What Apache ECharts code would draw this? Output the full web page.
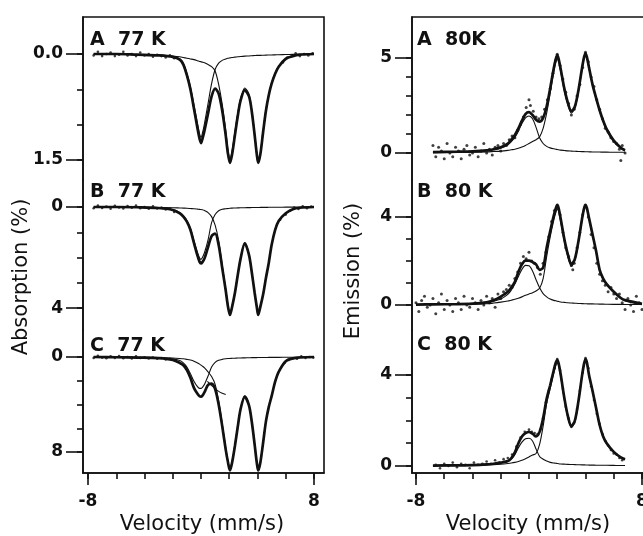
<!DOCTYPE html>
<html><head><meta charset="utf-8">
<script src="https://cdn.jsdelivr.net/npm/echarts@6/dist/echarts.min.js"></script>
<style>html,body{margin:0;padding:0;background:#fff}#c{width:643px;height:536px}</style>
</head><body><div id="c"></div>
<script>
// ---------- shared velocity grids (mm/s) ----------
const LV = [-7.6,-6,-4.5,-3,-2,-1.5,-1.25,-1,-0.75,-0.5,-0.25,-0.1,0,0.1,0.25,0.5,0.75,1,1.25,1.5,1.75,1.9,2.05,2.2,2.4,2.6,2.8,3.1,3.4,3.6,3.8,3.95,4.05,4.2,4.4,4.6,4.8,5,5.25,5.5,6,6.5,7,8];
const RV = [-8,-6.8,-5,-4,-3,-2.5,-2,-1.5,-1.25,-1,-0.75,-0.5,-0.25,0,0.25,0.5,0.75,1,1.25,1.5,1.75,1.9,2.0,2.1,2.25,2.5,2.75,3,3.25,3.5,3.75,3.9,4.0,4.1,4.25,4.5,4.75,5,5.25,5.5,6,6.5,6.8,8];

// ---------- Absorption A 77 K ----------
const LA_fit = [0,0,0.01,0.02,0.04,0.08,0.15,0.3,0.5,0.77,1.05,1.2,1.26,1.2,1.08,0.84,0.6,0.49,0.56,0.8,1.15,1.4,1.54,1.42,1.15,0.88,0.66,0.51,0.6,0.82,1.15,1.42,1.54,1.42,1.1,0.8,0.58,0.42,0.28,0.18,0.07,0.03,0.01,0];
const LA_c1 = [0,0,0.01,0.02,0.035,0.07,0.13,0.27,0.46,0.72,0.98,1.13,1.18,1.12,0.98,0.7,0.42,0.22,0.13,0.09,0.07,0.06,0.055,0.05,0.045,0.04,0.035,0.03,0.028,0.025,0.022,0.02,0.02,0.02,0.018,0.016,0.015,0.014,0.012,0.01,0.008,0.006,0.004,0];
const LA_c2 = [0,0.005,0.01,0.015,0.03,0.04,0.05,0.06,0.07,0.08,0.095,0.105,0.11,0.115,0.125,0.15,0.18,0.24,0.43,0.71,1.08,1.34,1.48,1.37,1.1,0.84,0.63,0.48,0.57,0.8,1.13,1.4,1.52,1.4,1.08,0.78,0.57,0.41,0.27,0.17,0.06,0.025,0.008,0];
const LA_pts = [[-7.6,0.02],[-7.3,-0.03],[-7.0,0.03],[-6.7,0.0],[-6.4,-0.02],[-6.1,0.03],[-5.8,0.01],[-5.5,-0.03],[-5.2,0.02],[-4.9,0.0],[-4.6,0.03],[-4.3,-0.02],[-4.0,0.02],[-3.7,0.0],[-3.4,0.04],[-3.1,0.01],[-2.8,0.03],[-2.5,0.05],[-2.2,0.02],[-1.9,0.06],[5.8,0.12],[6.1,0.05],[6.4,0.04],[6.7,-0.01],[7.0,0.03],[7.3,0.0],[7.6,0.02],[7.9,-0.01]];

// ---------- Absorption B 77 K ----------
const LB_fit = [0,0,0.01,0.04,0.12,0.25,0.38,0.58,0.9,1.42,1.92,2.17,2.23,2.18,2.03,1.58,1.15,1.05,1.5,2.4,3.3,3.9,4.27,3.95,3.4,2.7,2.05,1.44,1.9,2.6,3.4,3.95,4.27,3.95,3.45,2.8,2.2,1.5,0.9,0.55,0.25,0.09,0.03,0];
const LB_c1 = [0,0,0.01,0.03,0.1,0.22,0.34,0.53,0.84,1.33,1.8,2.02,2.07,2.0,1.8,1.3,0.62,0.3,0.15,0.09,0.07,0.06,0.05,0.045,0.04,0.035,0.03,0.028,0.025,0.022,0.02,0.02,0.018,0.017,0.016,0.015,0.013,0.012,0.01,0.009,0.007,0.005,0.003,0];
const LB_c2 = [0,0.005,0.01,0.02,0.03,0.04,0.045,0.05,0.06,0.07,0.085,0.095,0.1,0.11,0.14,0.22,0.38,0.72,1.33,2.3,3.23,3.84,4.22,3.9,3.36,2.66,2.02,1.41,1.87,2.57,3.38,3.93,4.25,3.93,3.43,2.78,2.18,1.49,0.89,0.54,0.24,0.085,0.027,0];
const LB_pts = [[-7.6,0.05],[-7.3,-0.06],[-7.0,0.04],[-6.7,-0.02],[-6.4,0.07],[-6.1,-0.05],[-5.8,0.02],[-5.5,0.06],[-5.2,-0.04],[-4.9,0.03],[-4.6,-0.06],[-4.3,0.05],[-4.0,0.0],[-3.7,0.07],[-3.4,-0.03],[-3.1,0.06],[-2.8,0.02],[-2.5,0.1],[-2.2,0.06],[-1.9,0.2],[5.6,0.5],[6.0,0.3],[6.3,0.15],[6.6,0.02],[6.9,0.08],[7.2,-0.03],[7.5,0.05],[7.8,-0.02]];

// ---------- Absorption C 77 K ----------
const LC_fit = [0,0.02,0.05,0.1,0.25,0.5,0.7,1.1,1.75,2.6,3.1,3.3,3.34,3.25,2.95,2.35,2.25,2.7,4.0,5.8,7.8,8.8,9.55,8.9,7.5,5.9,4.4,3.34,4.1,5.5,7.4,8.9,9.55,8.9,7.2,5.4,4.2,3.3,2.08,1.25,0.35,0.12,0.04,0];
const LC_c1 = [0,0.02,0.04,0.08,0.16,0.3,0.5,0.85,1.4,2.05,2.5,2.64,2.64,2.55,2.3,1.6,0.85,0.45,0.28,0.2,0.15,0.13,0.12,0.11,0.1,0.09,0.08,0.07,0.06,0.055,0.05,0.05,0.045,0.045,0.04,0.04,0.035,0.035,0.03,0.03,0.02,0.015,0.01,0];
const LC_c2 = [0,0.01,0.02,0.04,0.08,0.12,0.15,0.2,0.26,0.35,0.5,0.6,0.68,0.77,0.92,1.25,1.65,2.3,3.7,5.6,7.65,8.7,9.45,8.8,7.4,5.8,4.32,3.27,4.04,5.45,7.35,8.85,9.5,8.85,7.16,5.36,4.17,3.27,2.05,1.22,0.33,0.1,0.03,0];
const LC_extraV = [0.45,0.8,1.2,1.5,1.75];
const LC_extraD = [2.05,2.45,2.85,3.05,3.15];
const LC_pts = [[-7.6,0.08],[-7.3,-0.1],[-7.0,0.05],[-6.7,0.1],[-6.4,-0.05],[-6.1,0.08],[-5.8,-0.08],[-5.5,0.1],[-5.2,0.0],[-4.9,0.12],[-4.6,-0.06],[-4.3,0.08],[-4.0,0.02],[-3.7,0.12],[-3.4,0.04],[-3.1,0.15],[-2.8,0.08],[-2.5,0.2],[-2.2,0.15],[5.9,0.5],[6.2,0.25],[6.5,0.1],[6.8,0.15],[7.1,-0.05],[7.4,0.08],[7.7,0.0],[7.95,0.05]];

// ---------- Emission A 80K ----------
const RA_fit = [null,0.05,0.07,0.09,0.14,0.2,0.3,0.5,0.7,0.95,1.3,1.7,2.05,2.15,2.0,1.75,1.65,1.85,2.45,3.4,4.45,4.95,5.15,4.95,4.4,3.4,2.65,2.2,2.45,3.3,4.45,5.05,5.25,5.05,4.5,3.6,2.9,2.25,1.7,1.25,0.65,0.28,0.15,null];
const RA_c1 = [null,0.05,0.06,0.08,0.12,0.17,0.25,0.42,0.6,0.82,1.15,1.55,1.85,1.95,1.8,1.35,0.8,0.5,0.35,0.27,0.22,0.2,0.18,0.17,0.15,0.13,0.11,0.1,0.09,0.08,0.07,0.07,0.065,0.065,0.06,0.055,0.05,0.05,0.045,0.045,0.04,0.04,0.04,null];
const RA_c2 = [null,0.02,0.03,0.04,0.06,0.08,0.1,0.14,0.17,0.2,0.25,0.32,0.4,0.5,0.6,0.7,0.85,1.3,2.1,3.15,4.25,4.78,4.97,4.78,4.25,3.27,2.54,2.1,2.36,3.22,4.38,4.98,5.18,4.98,4.44,3.55,2.85,2.2,1.65,1.2,0.61,0.24,0.11,null];
const RA_pts = [[-6.8,0.4],[-6.6,-0.2],[-6.4,0.3],[-6.2,0.1],[-6.0,-0.3],[-5.8,0.5],[-5.6,0.0],[-5.4,-0.2],[-5.2,0.3],[-5.0,0.1],[-4.8,-0.3],[-4.6,0.2],[-4.4,0.4],[-4.2,-0.1],[-4.0,0.0],[-3.8,0.3],[-3.6,-0.2],[-3.4,0.1],[-3.2,0.5],[-3.0,0.0],[-2.8,0.2],[-2.6,-0.1],[-2.4,0.3],[-2.2,0.4],[-2.0,0.1],[-1.8,0.5],[-1.6,0.4],[-1.4,0.7],[-1.2,0.9],[-1.0,0.8],[-0.8,1.2],[-0.6,1.5],[-0.4,1.9],[-0.2,2.4],[0,2.8],[0.1,2.5],[0.3,2.2],[0.5,1.9],[0.7,1.8],[0.9,1.9],[1.1,2.3],[1.3,2.8],[1.5,3.4],[1.7,4.2],[1.9,4.9],[2.0,5.2],[2.2,4.6],[2.4,3.9],[2.6,3.2],[2.8,2.6],[3.0,2.0],[3.2,2.3],[3.4,3.0],[3.6,3.6],[3.8,4.5],[4.0,5.3],[4.2,4.8],[4.4,4.0],[4.6,3.5],[4.8,2.8],[5.0,2.3],[5.2,1.8],[5.4,1.3],[5.6,1.1],[5.8,0.8],[6.0,0.6],[6.2,0.5],[6.4,0.2],[6.6,0.4],[6.8,0.0],[6.5,-0.4]];

// ---------- Emission B 80 K ----------
const RB_fit = [0.02,0.03,0.04,0.06,0.12,0.22,0.38,0.6,0.8,1.05,1.5,1.85,2.02,2.02,1.95,1.85,1.6,1.7,2.6,3.35,4.05,4.4,4.55,4.4,3.9,3.0,2.3,1.85,2.1,2.9,3.9,4.4,4.55,4.4,3.95,3.2,2.45,1.6,1.2,0.95,0.6,0.32,0.22,0.05];
const RB_c1 = [0.02,0.03,0.05,0.07,0.12,0.17,0.27,0.48,0.68,0.95,1.3,1.62,1.8,1.78,1.55,1.15,0.78,0.52,0.37,0.27,0.21,0.19,0.17,0.16,0.14,0.12,0.1,0.09,0.08,0.07,0.065,0.06,0.06,0.055,0.05,0.05,0.045,0.04,0.04,0.035,0.03,0.03,0.025,0.02];
const RB_c2 = [0.01,0.02,0.03,0.04,0.06,0.09,0.13,0.18,0.22,0.26,0.31,0.37,0.44,0.5,0.56,0.64,0.76,1.2,2.2,3.1,3.85,4.2,4.38,4.24,3.76,2.88,2.2,1.76,2.02,2.83,3.83,4.34,4.49,4.35,3.9,3.15,2.4,1.56,1.16,0.92,0.57,0.29,0.2,0.03];
const RB_pts = [[-8.0,0.1],[-7.8,-0.3],[-7.6,0.2],[-7.4,0.4],[-7.2,-0.1],[-7.0,0.0],[-6.8,0.3],[-6.6,-0.4],[-6.4,0.1],[-6.2,0.5],[-6.0,-0.2],[-5.8,0.2],[-5.6,0.0],[-5.4,-0.3],[-5.2,0.3],[-5.0,0.1],[-4.8,-0.2],[-4.6,0.4],[-4.4,0.0],[-4.2,-0.1],[-4.0,0.3],[-3.8,0.1],[-3.6,-0.2],[-3.4,0.2],[-3.2,0.0],[-3.0,0.4],[-2.8,0.1],[-2.6,0.3],[-2.4,-0.1],[-2.2,0.5],[-2.0,0.3],[-1.8,0.6],[-1.6,0.7],[-1.4,0.9],[-1.2,0.8],[-1.0,1.2],[-0.8,1.5],[-0.6,1.9],[-0.4,2.2],[-0.2,2.1],[0.0,2.4],[0.2,2.0],[0.4,1.9],[0.6,1.7],[0.8,1.4],[1.0,1.9],[1.2,2.4],[1.4,3.1],[1.6,3.8],[1.8,4.3],[2.0,4.5],[2.2,4.1],[2.4,3.3],[2.6,2.6],[2.8,2.2],[3.0,1.8],[3.1,1.6],[3.2,1.9],[3.4,2.6],[3.6,3.3],[3.8,4.1],[4.0,4.5],[4.2,4.0],[4.4,3.2],[4.6,2.6],[4.8,1.9],[5.0,1.4],[5.2,1.1],[5.4,0.9],[5.6,0.6],[5.8,0.8],[6.0,0.5],[6.2,0.3],[6.4,0.5],[6.6,0.1],[6.8,-0.2],[7.0,0.3],[7.2,0.0],[7.4,-0.3],[7.6,0.4],[7.8,0.1],[8.0,-0.2],[8.2,0.3],[8.4,0.0]];

// ---------- Emission C 80 K ----------
const RC_fit = [null,0.02,0.03,0.04,0.07,0.1,0.15,0.22,0.35,0.6,1.0,1.3,1.44,1.5,1.42,1.3,1.5,2.1,2.95,3.55,4.2,4.55,4.65,4.5,4.0,3.0,2.2,1.75,2.0,2.85,3.95,4.5,4.7,4.55,4.0,3.3,2.55,1.8,1.3,1.0,0.62,0.38,0.3,null];
const RC_c1 = [null,0.02,0.03,0.04,0.06,0.08,0.12,0.2,0.3,0.5,0.8,1.05,1.2,1.22,1.1,0.75,0.42,0.3,0.22,0.16,0.13,0.12,0.11,0.1,0.09,0.08,0.07,0.065,0.06,0.055,0.05,0.05,0.045,0.045,0.04,0.04,0.035,0.035,0.03,0.03,0.025,0.02,0.02,null];
const RC_c2 = [null,0.01,0.02,0.03,0.05,0.06,0.08,0.11,0.13,0.16,0.2,0.25,0.32,0.4,0.48,0.55,0.95,1.75,2.75,3.4,4.08,4.43,4.54,4.4,3.9,2.92,2.13,1.68,1.94,2.8,3.9,4.45,4.65,4.5,3.96,3.26,2.51,1.76,1.27,0.97,0.6,0.36,0.28,null];
const RC_pts = [[-6.6,0.05],[-6.3,-0.1],[-6.0,0.1],[-5.7,0.0],[-5.4,0.15],[-5.1,-0.05],[-4.8,0.1],[-4.5,0.05],[-4.2,-0.1],[-3.9,0.15],[-3.6,0.05],[-3.3,0.1],[-3.0,0.2],[-2.7,0.1],[-2.4,0.25],[-2.1,0.15],[-1.8,0.3],[-1.5,0.35],[-1.2,0.5],[-0.9,0.85],[-0.6,1.25],[-0.3,1.5],[0.0,1.6],[0.2,1.5],[0.4,1.45],[0.6,1.4],[0.8,1.6],[1.0,2.1],[1.2,2.8],[1.4,3.3],[1.6,3.8],[1.8,4.3],[2.0,4.7],[2.2,4.2],[2.4,3.4],[2.6,2.6],[2.8,2.1],[3.0,1.75],[3.2,1.9],[3.4,2.5],[3.6,3.3],[3.8,4.1],[4.0,4.75],[4.2,4.3],[4.4,3.5],[4.6,2.9],[4.8,2.3],[5.0,1.85],[5.2,1.4],[5.4,1.1],[5.6,0.9],[5.8,0.7],[6.0,0.55],[6.2,0.5],[6.4,0.35],[6.6,0.25]];

// ---------- ticks & labels ----------
const X_TICKS = [-8,-6,-4,-2,0,2,4,6,8];
const X_LABELS = [-8,8];
const TITLES = ['A  77 K','B  77 K','C  77 K','A  80K','B  80 K','C  80 K'];

// ---------- layout ----------
const FONT = 'DejaVu Sans';
const INK = '#111';
const COLS = [
  {left:83, width:241, xr:[-8.354,8.708], inverse:true},
  {left:412, width:240, xr:[-8.283,8.708], inverse:false}
];
const ROWS = [{top:17,height:163},{top:180,height:150},{top:330,height:143}];
const fmt1 = v => v.toFixed(1);
const fmt0 = v => String(v);
const PANELS = [
  {col:0,row:0,yr:[-0.523,1.782],ticks:[0,0.5,1,1.5],labels:[0,1.5],fmt:fmt1,v:LV,fit:LA_fit,c1:LA_c1,c2:LA_c2,pts:LA_pts,ps:2.6},
  {col:0,row:1,yr:[-1.067,4.862],ticks:[0,1,2,3,4],labels:[0,4],fmt:fmt0,v:LV,fit:LB_fit,c1:LB_c1,c2:LB_c2,pts:LB_pts,ps:2.6},
  {col:0,row:2,yr:[-2.274,9.768],ticks:[0,2,4,6,8],labels:[0,8],fmt:fmt0,v:LV,fit:LC_fit,c1:LC_c1,c2:LC_c2,pts:LC_pts,ps:2.6,extra:[LC_extraV,LC_extraD]},
  {col:1,row:0,yr:[-1.421,7.158],ticks:[0,1,2,3,4,5],labels:[0,5],fmt:fmt0,v:RV,fit:RA_fit,c1:RA_c1,c2:RA_c2,pts:RA_pts,ps:3},
  {col:1,row:1,yr:[-1.136,5.682],ticks:[0,1,2,3,4],labels:[0,4],fmt:fmt0,v:RV,fit:RB_fit,c1:RB_c1,c2:RB_c2,pts:RB_pts,ps:3},
  {col:1,row:2,yr:[-0.308,5.978],ticks:[0,1,2,3,4],labels:[0,4],fmt:fmt0,v:RV,fit:RC_fit,c1:RC_c1,c2:RC_c2,pts:RC_pts,ps:2.6}
];

const pairs = (vs, ys) => vs.map((v,i)=>[v, ys[i]]).filter(p => p[1] !== null);
const labelStyle = {fontFamily:FONT, fontSize:17, fontWeight:'bold', color:INK};
const axLine = {show:true, onZero:false, lineStyle:{color:INK, width:1.6}};
const noLine = {show:false, onZero:false};

const grid=[], xAxis=[], yAxis=[], series=[];
PANELS.forEach((p,i)=>{
  const c = COLS[p.col], r = ROWS[p.row];
  grid.push({left:c.left, width:c.width, top:r.top, height:r.height, outerBoundsMode:'none', containLabel:false});
  const bottom = p.row === 2;
  const xi = xAxis.length;
  xAxis.push({gridIndex:i, type:'value', position:'bottom', min:c.xr[0], max:c.xr[1], show:bottom,
    axisLine:axLine, axisTick:{show:true, length:6, customValues:X_TICKS, lineStyle:{color:INK,width:1.6}},
    axisLabel:{show:false}, splitLine:{show:false}});
  if (bottom) {
    xAxis.push({gridIndex:i, type:'value', position:'bottom', offset:0, min:c.xr[0], max:c.xr[1],
      axisLine:noLine, axisTick:{show:true, length:12, customValues:X_LABELS, lineStyle:{color:INK,width:1.6}},
      axisLabel:Object.assign({show:true, customValues:X_LABELS, margin:20, formatter:fmt0}, labelStyle),
      splitLine:{show:false}});
  }
  const yi = yAxis.length;
  yAxis.push({gridIndex:i, type:'value', position:'left', min:p.yr[0], max:p.yr[1], inverse:c.inverse,
    axisLine:axLine, axisTick:{show:true, length:6, customValues:p.ticks, lineStyle:{color:INK,width:1.6}},
    axisLabel:{show:false}, splitLine:{show:false}});
  yAxis.push({gridIndex:i, type:'value', position:'left', offset:0, min:p.yr[0], max:p.yr[1], inverse:c.inverse,
    axisLine:noLine, axisTick:{show:true, length:17, customValues:p.labels, lineStyle:{color:INK,width:1.6}},
    axisLabel:Object.assign({show:true, customValues:p.labels, margin:20, formatter:p.fmt}, labelStyle),
    splitLine:{show:false}});
  const base = {xAxisIndex:xi, yAxisIndex:yi, silent:true, animation:false};
  series.push(Object.assign({type:'scatter', data:p.pts, symbolSize:p.ps, itemStyle:{color:INK}, z:2}, base));
  series.push(Object.assign({type:'line', data:pairs(p.v,p.c1), symbol:'none', smooth:0.3, lineStyle:{color:INK,width:1.1}, z:3}, base));
  series.push(Object.assign({type:'line', data:pairs(p.v,p.c2), symbol:'none', smooth:0.3, lineStyle:{color:INK,width:1.1}, z:3}, base));
  series.push(Object.assign({type:'line', data:pairs(p.v,p.fit), symbol:'none', smooth:0.3, lineStyle:{color:INK,width:2.7}, z:4}, base));
  if (p.extra) series.push(Object.assign({type:'line', data:pairs(p.extra[0],p.extra[1]), symbol:'none', smooth:0.3, lineStyle:{color:INK,width:1.1}, z:3}, base));
});
// outer frames
COLS.forEach((c,k)=>{
  const gi = grid.length;
  grid.push({left:c.left, width:c.width, top:17, height:456, show:true, borderColor:INK, borderWidth:1.6, backgroundColor:'transparent', outerBoundsMode:'none', containLabel:false});
  xAxis.push({gridIndex:gi, type:'value', min:0, max:1, show:false});
  yAxis.push({gridIndex:gi, type:'value', min:0, max:1, show:false});
});

const TPOS = [[90,40],[90,192],[90,346],[417,40],[417,192],[417,345]];
const graphic = TITLES.map((t,i)=>({type:'text', x:TPOS[i][0], y:TPOS[i][1], silent:true,
  style:{text:t, font:'bold 19px "DejaVu Sans"', fill:INK, textAlign:'left', textVerticalAlign:'middle'}}));
const NAME_FONT = '21px "DejaVu Sans"';
graphic.push({type:'text', x:22, y:277, rotation:Math.PI/2, silent:true, style:{text:'Absorption (%)', font:NAME_FONT, fill:INK, textAlign:'center', textVerticalAlign:'middle'}});
graphic.push({type:'text', x:354, y:271, rotation:Math.PI/2, silent:true, style:{text:'Emission (%)', font:NAME_FONT, fill:INK, textAlign:'center', textVerticalAlign:'middle'}});
graphic.push({type:'text', x:202, y:525, silent:true, style:{text:'Velocity (mm/s)', font:NAME_FONT, fill:INK, textAlign:'center', textVerticalAlign:'middle'}});
graphic.push({type:'text', x:528, y:525, silent:true, style:{text:'Velocity (mm/s)', font:NAME_FONT, fill:INK, textAlign:'center', textVerticalAlign:'middle'}});

const chart = echarts.init(document.getElementById('c'), null, {renderer:'canvas'});
chart.setOption({animation:false, backgroundColor:'#fff', grid, xAxis, yAxis, series, graphic});
</script>
</body></html>
